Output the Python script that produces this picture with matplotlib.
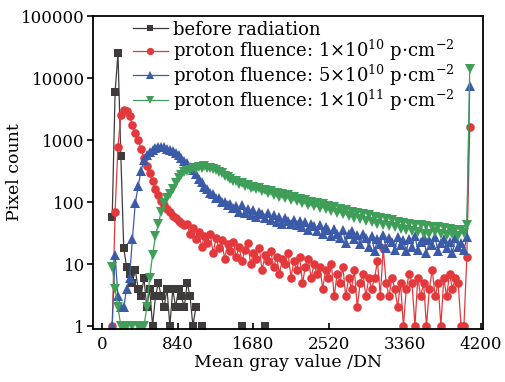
import numpy as np
import matplotlib
matplotlib.use("Agg")
import matplotlib.pyplot as plt
from matplotlib.ticker import FixedLocator, FixedFormatter, NullLocator

nan = np.nan

# histogram bins, 32 DN wide
bin_width = 32
gray = np.arange(128) * bin_width + bin_width / 2

before = [nan, nan, nan, 57, 5900, 25000, 550, 18, 9, 7,
          5, 8, 4, 3, 6, 2, 4, 1, 3, 5,
          3, 2, 4, 1, 4, 2, 4, 3, 2, 5,
          3, 1, 2, nan, 1, nan, nan, nan, nan, nan,
          nan, nan, nan, nan, nan, nan, nan, nan, 1, nan,
          nan, nan, nan, nan, nan, nan, 1] + [nan] * 71

red = [nan, nan, nan, 1, 70, 780, 2500, 3000, 2900, 2400,
       1750, 1300, 1000, 720, 520, 380, 290, 215, 165, 128,
       105, 90, 78, 70, 60, 55, 50, 46, 42,
       44, 30, 38, 25, 33, 19, 28, 22, 31, 15, 26, 18, 24, 12, 21, 16, 23,
       13, 19, 11, 17, 22, 10, 15, 12, 18, 8, 14, 11, 16, 9, 13,
       7, 12, 10, 15, 6, 11, 8, 13, 5, 9, 12, 6, 10, 7, 9,
       4, 8, 6, 10, 3, 7, 5, 9, 3, 6, 4, 8, 2, 5, 7, 3, 6,
       4, 6, 11, 3, 18, 5, 3, 6, 4, 2, 5, 1, 4, 7, 5, 1, 6, 3, 5, 1,
       4, 8, 3, 5, 1, 6, 3, 7, 4, 6, 5, 1, 1, 13, 1600]

blue = [nan, nan, nan, 1, 14, 3, 2, 2, 4, 6,
        25, 95, 180, 320, 470, 570, 650, 700, 740, 760,
        770, 760, 730, 700, 660, 620, 570, 510, 460, 420,
        370, 330, 285, 235, 210, 172, 165, 140, 135, 115,
        118, 100, 102, 88, 92, 80,
        85, 70, 88, 66, 78, 62, 74, 58, 70, 64,
        56, 66, 52, 61, 48, 58, 45, 55, 50, 44,
        52, 42, 49, 40, 47, 36, 44, 41, 34, 42,
        31, 39, 35, 28, 37, 30, 26, 35, 22, 31,
        34, 25, 29, 21, 31, 26, 19, 28, 16, 25,
        21, 29, 18, 26, 23, 17, 27, 20, 24, 16,
        25, 19, 28, 17, 23, 26, 15, 24, 20, 27,
        16, 22, 25, 18, 23, 15, 26, 19, 22, 17, 27, 7400]

green = [nan, nan, nan, 9, 4, 2, 1, 1, 1, nan,
         1, nan, 1, 1, 1, 2, 6, 14, 28, 45,
         70, 95, 115, 135, 165, 200, 240, 275, 300, 320,
         335, 350, 345, 365, 355, 375, 360, 352, 340, 325,
         305, 290, 265, 255, 232, 222,
         215, 195, 205, 180, 190, 168, 178, 160, 170, 148,
         158, 138, 150, 130, 142, 122, 135, 115, 128, 108,
         120, 104, 112, 96, 108, 90, 102, 85, 96, 80,
         92, 76, 86, 72, 82, 66, 78, 63, 74, 60,
         70, 56, 67, 54, 64, 50, 62, 47, 58, 45,
         56, 43, 53, 41, 51, 39, 48, 37, 46, 36,
         45, 34, 43, 33, 42, 31, 41, 30, 40, 33,
         39, 30, 38, 29, 37, 31, 36, 28, 35, 32, 42, 14000]

labels = ["before radiation",
          r"proton fluence: 1$\times$10$^{10}$ p$\cdot$cm$^{-2}$",
          r"proton fluence: 5$\times$10$^{10}$ p$\cdot$cm$^{-2}$",
          r"proton fluence: 1$\times$10$^{11}$ p$\cdot$cm$^{-2}$"]
colors = ["#3f3b3b", "#e4393c", "#3b5ba8", "#3f9f58"]
markers = ["s", "o", "^", "v"]
msizes = [5.5, 6.2, 6.5, 6.5]

xticks = [0, 840, 1680, 2520, 3360, 4200]
yticks = [1, 10, 100, 1000, 10000, 100000]

plt.rcParams["font.family"] = ["DejaVu Serif"]
plt.rcParams["mathtext.fontset"] = "dejavuserif"

fig = plt.figure(figsize=(5.06, 3.82), dpi=100)
ax = fig.add_axes([0.184, 0.139, 0.771, 0.819])

for ys, lab, c, m, ms in zip([before, red, blue, green], labels, colors, markers, msizes):
    ax.plot(gray, ys, color=c, marker=m, markersize=ms, linewidth=0.9,
            markeredgewidth=0, label=lab)

ax.set_yscale("log")
ax.set_xlim(-100, 4230)
ax.set_ylim(0.9, 100000)
ax.xaxis.set_major_locator(FixedLocator(xticks))
ax.yaxis.set_major_locator(FixedLocator(yticks))
ax.yaxis.set_major_formatter(FixedFormatter([str(v) for v in yticks]))
ax.yaxis.set_minor_locator(NullLocator())
ax.tick_params(axis="x", direction="in", length=4, width=1.2, labelsize=12, pad=5)
ax.tick_params(axis="y", direction="out", length=4, width=1.2, labelsize=12, pad=2)
for s in ax.spines.values():
    s.set_linewidth(1.3)

ax.set_xlabel("Mean gray value /DN", fontsize=12.5, labelpad=1)
ax.set_ylabel("Pixel count", fontsize=12.5)
ax.yaxis.set_label_coords(-0.18, 0.5)

ax.legend(loc="upper left", bbox_to_anchor=(0.075, 1.02), frameon=False,
          fontsize=13, handlelength=1.9, handletextpad=0.3,
          labelspacing=-0.03, borderaxespad=0.2, markerscale=0.85)

fig.savefig("out.png", dpi=100)
